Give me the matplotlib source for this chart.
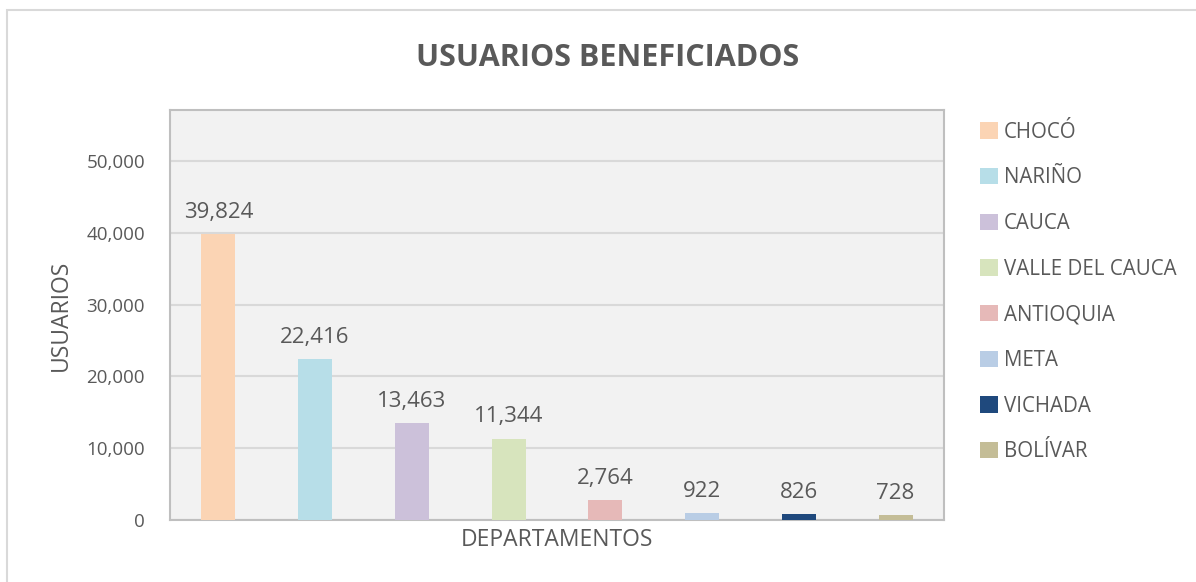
import matplotlib.pyplot as plt
from matplotlib.patches import Rectangle, Patch

# Data
departamentos = ["CHOCÓ", "NARIÑO", "CAUCA", "VALLE DEL CAUCA",
                 "ANTIOQUIA", "META", "VICHADA", "BOLÍVAR"]
usuarios = [39824, 22416, 13463, 11344, 2764, 922, 826, 728]
colores = ["#FBD4B4", "#B7DEE8", "#CCC1DA", "#D7E4BD",
           "#E6B9B8", "#B9CDE5", "#1F497D", "#C4BD97"]

plt.rcParams["font.family"] = ["Open Sans", "DejaVu Sans"]
gris = "#595959"

fig = plt.figure(figsize=(11.96, 5.82), dpi=100)
fig.patches.append(Rectangle((0.006, -0.01), 1.1, 0.992, transform=fig.transFigure,
                             fill=False, edgecolor="#D9D9D9", linewidth=1.5))

ax = fig.add_axes([0.1421, 0.1065, 0.6472, 0.7045])
ax.set_facecolor("#F2F2F2")

x = list(range(len(departamentos)))
bars = ax.bar(x, usuarios, width=0.35, color=colores, zorder=3)

for xi, v in zip(x, usuarios):
    ax.annotate(f"{v:,}", (xi, v), xytext=(0, 8), textcoords="offset points",
                ha="center", va="bottom", fontsize=16, color=gris)

ax.set_xlim(-0.5, 7.5)
ax.set_ylim(0, 57100)
ax.set_yticks(range(0, 50001, 10000))
ax.set_yticklabels([f"{t:,}" for t in range(0, 50001, 10000)], fontsize=13.5, color=gris)
ax.set_xticks([])
ax.tick_params(axis="y", length=0, pad=18)
ax.grid(axis="y", color="#D9D9D9", linewidth=1.5, zorder=0)
for s in ax.spines.values():
    s.set_color("#BFBFBF")
    s.set_linewidth(1.5)

ax.set_xlabel("DEPARTAMENTOS", fontsize=16.5, color=gris, labelpad=6)
ax.set_ylabel("USUARIOS", fontsize=16.5, color=gris, labelpad=10)

fig.text(0.508, 0.9, "USUARIOS BENEFICIADOS", ha="center", va="center",
         fontsize=22, fontweight="bold", color=gris)

handles = [Patch(facecolor=c, edgecolor="none") for c in colores]
leg = fig.legend(handles, departamentos, loc="upper left",
                 bbox_to_anchor=(0.804, 0.823), frameon=False, fontsize=14.8,
                 labelspacing=1.2, handlelength=0.85, handleheight=0.85,
                 handletextpad=0.3, labelcolor=gris)

fig.savefig("out.png", dpi=100)
